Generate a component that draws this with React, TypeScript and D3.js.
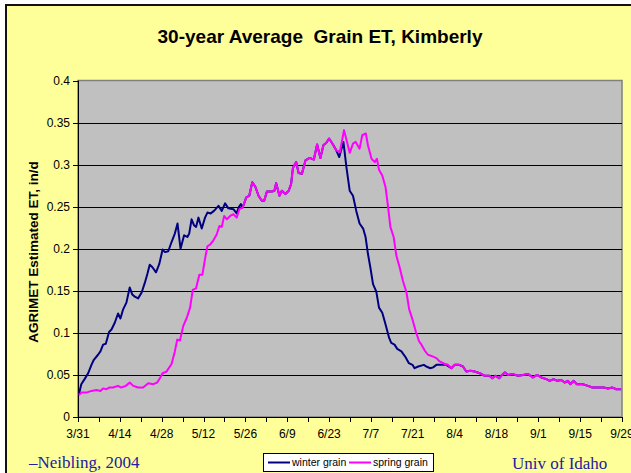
import React from "react";
import * as d3 from "d3";

// Days counted from 3/31
const tickLabels = ["3/31", "4/14", "4/28", "5/12", "5/26", "6/9", "6/23", "7/7", "7/21", "8/4", "8/18", "9/1", "9/15", "9/29"];
const yTicks = [0, 0.05, 0.1, 0.15, 0.2, 0.25, 0.3, 0.35, 0.4];

const springDay = [0.3, 1.1, 2.8, 4.5, 6.2, 7.5, 8.4, 9.5, 10.4, 11.7, 13.4, 14.5, 16.0, 17.3, 18.5, 20.1, 21.8, 23.5, 25.2, 26.5, 27.4, 28.3, 29.6, 31.3, 32.4, 33.2, 34.1, 35.2, 36.4, 37.5, 38.4, 39.5, 40.6, 41.6, 42.5, 43.3, 44.2, 45.3, 46.4, 47.3, 48.1, 48.9, 49.8, 50.9, 52.0, 53.1, 54.0, 55.1, 56.3, 57.3, 58.3, 59.3, 60.4, 61.5, 62.3, 63.2, 64.9, 65.7, 66.3, 67.4, 68.2, 69.4, 70.5, 71.3, 71.9, 73.0, 73.8, 74.9, 76.1, 77.5, 78.9, 80.0, 81.1, 82.1, 83.1, 84.0, 85.3, 86.4, 87.6, 89.0, 90.0, 90.9, 92.0, 92.9, 94.2, 95.1, 96.3, 97.0, 98.2, 99.3, 100.0, 100.7, 101.8, 102.9, 103.7, 104.5, 105.6, 106.5, 107.6, 108.7, 109.9, 110.8, 111.9, 113.0, 114.1, 114.9, 116.0, 117.1, 118.6, 119.9, 121.0, 122.7, 123.8, 124.9, 126.0, 127.5, 128.8, 129.9, 131.3, 132.7, 134.4, 136.1, 137.7, 138.6, 139.7, 140.9, 141.6, 142.8, 143.9, 145.5, 147.2, 148.9, 150.6, 152.2, 153.6, 155.0, 156.7, 157.8, 159.1, 160.3, 161.7, 162.8, 163.9, 164.7, 165.8, 166.9, 168.9, 170.6, 172.1, 174.0, 175.9, 177.3, 178.8, 180.1, 181.7];
const springET = [0.026, 0.029, 0.029, 0.031, 0.032, 0.031, 0.034, 0.033, 0.035, 0.035, 0.037, 0.035, 0.037, 0.041, 0.037, 0.035, 0.035, 0.040, 0.039, 0.041, 0.046, 0.052, 0.054, 0.063, 0.078, 0.092, 0.091, 0.108, 0.118, 0.130, 0.151, 0.153, 0.169, 0.169, 0.188, 0.203, 0.205, 0.210, 0.217, 0.227, 0.226, 0.239, 0.235, 0.239, 0.241, 0.237, 0.247, 0.249, 0.261, 0.263, 0.279, 0.274, 0.263, 0.257, 0.257, 0.268, 0.268, 0.269, 0.278, 0.263, 0.269, 0.265, 0.269, 0.277, 0.296, 0.303, 0.290, 0.289, 0.305, 0.308, 0.306, 0.324, 0.308, 0.323, 0.326, 0.331, 0.324, 0.317, 0.315, 0.341, 0.327, 0.314, 0.325, 0.327, 0.319, 0.335, 0.337, 0.323, 0.307, 0.303, 0.307, 0.294, 0.287, 0.273, 0.251, 0.226, 0.214, 0.192, 0.178, 0.162, 0.148, 0.128, 0.116, 0.102, 0.090, 0.086, 0.079, 0.074, 0.072, 0.070, 0.066, 0.063, 0.062, 0.058, 0.062, 0.062, 0.060, 0.054, 0.055, 0.054, 0.052, 0.049, 0.049, 0.046, 0.049, 0.046, 0.049, 0.053, 0.050, 0.051, 0.049, 0.050, 0.051, 0.047, 0.050, 0.047, 0.045, 0.043, 0.045, 0.043, 0.044, 0.041, 0.043, 0.039, 0.043, 0.039, 0.039, 0.037, 0.035, 0.035, 0.035, 0.034, 0.035, 0.033, 0.033];

const winterDay = [0.3, 1.1, 2.2, 3.4, 4.5, 5.3, 6.7, 7.5, 8.4, 9.3, 10.4, 11.2, 12.3, 13.4, 14.2, 15.1, 16.2, 17.3, 18.1, 19.0, 20.1, 21.3, 22.4, 23.2, 24.0, 24.9, 26.1, 27.2, 28.3, 29.1, 30.2, 31.3, 32.4, 33.3, 34.3, 35.5, 36.6, 37.2, 38.0, 38.8, 39.5, 40.3, 41.4, 42.5, 43.3, 44.4, 45.5, 47.0, 48.1, 49.2, 50.3, 52.0, 53.1, 53.7, 54.5, 55.1, 56.3, 57.3, 58.3, 59.3, 60.4, 61.5, 62.3, 63.2, 64.9, 65.7, 66.3, 67.4, 68.2, 69.4, 70.5, 71.3, 71.9, 73.0, 73.8, 74.9, 76.1, 77.5, 78.9, 80.0, 81.1, 82.1, 83.1, 84.0, 85.3, 86.4, 87.4, 88.8, 89.8, 90.9, 92.0, 93.1, 94.2, 95.4, 96.2, 97.0, 97.8, 98.7, 99.8, 100.7, 101.8, 102.9, 104.1, 104.8, 105.9, 106.8, 108.2, 109.6, 110.7, 111.9, 112.6, 113.8, 115.7, 116.5, 117.9, 118.8, 119.9, 121.6, 123.2, 124.9, 126.0, 127.5, 128.8, 129.9, 131.3, 132.7, 134.4, 136.1, 137.7, 138.6, 139.7, 140.9, 141.6, 142.8, 143.9, 145.5, 147.2, 148.9, 150.6, 152.2, 153.6, 155.0, 156.7, 157.8, 159.1, 160.3, 161.7, 162.8, 163.9, 164.7, 165.8, 166.9, 168.9, 170.6, 172.1, 174.0, 175.9, 177.3, 178.8, 180.1, 181.7];
const winterET = [0.027, 0.039, 0.045, 0.052, 0.062, 0.068, 0.074, 0.078, 0.086, 0.087, 0.101, 0.104, 0.112, 0.123, 0.117, 0.128, 0.136, 0.154, 0.146, 0.143, 0.141, 0.148, 0.160, 0.170, 0.181, 0.178, 0.172, 0.182, 0.199, 0.196, 0.197, 0.208, 0.218, 0.230, 0.200, 0.216, 0.214, 0.218, 0.235, 0.228, 0.226, 0.237, 0.224, 0.237, 0.243, 0.242, 0.245, 0.251, 0.245, 0.254, 0.248, 0.247, 0.242, 0.249, 0.253, 0.249, 0.261, 0.263, 0.279, 0.274, 0.263, 0.257, 0.257, 0.268, 0.268, 0.269, 0.278, 0.263, 0.269, 0.265, 0.269, 0.277, 0.296, 0.303, 0.290, 0.289, 0.305, 0.308, 0.306, 0.324, 0.308, 0.323, 0.326, 0.331, 0.324, 0.317, 0.309, 0.327, 0.297, 0.269, 0.263, 0.245, 0.230, 0.224, 0.214, 0.194, 0.178, 0.158, 0.149, 0.130, 0.124, 0.110, 0.094, 0.088, 0.086, 0.081, 0.078, 0.071, 0.064, 0.062, 0.058, 0.060, 0.062, 0.060, 0.058, 0.059, 0.062, 0.062, 0.062, 0.058, 0.062, 0.062, 0.060, 0.054, 0.055, 0.054, 0.052, 0.049, 0.049, 0.046, 0.049, 0.046, 0.049, 0.053, 0.050, 0.051, 0.049, 0.050, 0.051, 0.047, 0.050, 0.047, 0.045, 0.043, 0.045, 0.043, 0.044, 0.041, 0.043, 0.039, 0.043, 0.039, 0.039, 0.037, 0.035, 0.035, 0.035, 0.034, 0.035, 0.033, 0.033];

const W = 631;
const H = 473;
const plot = { left: 78, right: 622, top: 80.5, bottom: 417 };

export default function App() {
  const x = d3.scaleLinear().domain([0, 182]).range([plot.left, plot.right]);
  const y = d3.scaleLinear().domain([0, 0.4]).range([plot.bottom, plot.top]);
  const line = d3
    .line<[number, number]>()
    .x((d) => x(d[0]))
    .y((d) => y(d[1]));
  const winter = winterDay.map((d, i) => [d, winterET[i]] as [number, number]);
  const spring = springDay.map((d, i) => [d, springET[i]] as [number, number]);
  const minorTicks = d3.range(0, 183, 7);
  const sans = "'Liberation Sans', Arial, sans-serif";
  const serif = "'Liberation Serif', 'Times New Roman', serif";

  return (
    <svg width={W} height={H} style={{ position: "absolute", left: 0, top: 0 }} fontFamily={sans}>
      <rect x={0} y={0} width={W} height={H} fill="#ffffff" />
      <rect x={6} y={5} width={W + 20} height={H + 20} fill="#FFFF99" stroke="#111111" strokeWidth={2} />
      <text x={320} y={42.5} textAnchor="middle" fontSize={19} fontWeight="bold" fill="#000" style={{ whiteSpace: "pre" }}>
        {"30-year Average  Grain ET, Kimberly"}
      </text>
      <rect x={plot.left} y={plot.top} width={plot.right - plot.left} height={plot.bottom - plot.top} fill="#C0C0C0" stroke="#808080" strokeWidth={1.5} />
      {yTicks.slice(1, -1).map((t) => (
        <line key={t} x1={plot.left} x2={plot.right} y1={Math.round(y(t)) + 0.5} y2={Math.round(y(t)) + 0.5} stroke="#000" strokeWidth={1} />
      ))}
      <line x1={plot.left + 0.5} x2={plot.left + 0.5} y1={plot.top} y2={plot.bottom} stroke="#000" strokeWidth={1} />
      <line x1={plot.left} x2={plot.right} y1={plot.bottom + 0.5} y2={plot.bottom + 0.5} stroke="#000" strokeWidth={1} />
      {yTicks.map((t) => (
        <g key={t}>
          <line x1={plot.left - 5} x2={plot.left} y1={Math.round(y(t)) + 0.5} y2={Math.round(y(t)) + 0.5} stroke="#000" />
          <text x={70} y={y(t) + 4} textAnchor="end" fontSize={12} fill="#000">
            {t}
          </text>
        </g>
      ))}
      {minorTicks.map((t) => (
        <line key={t} x1={Math.round(x(t)) + 0.5} x2={Math.round(x(t)) + 0.5} y1={plot.bottom} y2={plot.bottom + 5} stroke="#000" />
      ))}
      {tickLabels.map((lab, i) => (
        <text key={lab} x={x(i * 14)} y={438} textAnchor="middle" fontSize={12} fill="#000">
          {lab}
        </text>
      ))}
      <text transform={`translate(38,252) rotate(-90)`} textAnchor="middle" fontSize={13.5} fontWeight="bold" fill="#000">
        AGRIMET Estimated ET, in/d
      </text>
      <path d={line(winter) || ""} fill="none" stroke="#000080" strokeWidth={2} strokeLinejoin="round" />
      <path d={line(spring) || ""} fill="none" stroke="#FF00FF" strokeWidth={2} strokeLinejoin="round" />
      <rect x={263.5} y={453.5} width={170} height={18} fill="#fff" stroke="#000" strokeWidth={1} />
      <line x1={268} x2={290} y1={462.5} y2={462.5} stroke="#000080" strokeWidth={2} />
      <text x={292} y={466} fontSize={10.5} fill="#000">winter grain</text>
      <line x1={349} x2={371} y1={462.5} y2={462.5} stroke="#FF00FF" strokeWidth={2} />
      <text x={373} y={466} fontSize={10.5} fill="#000">spring grain</text>
      <text x={29} y={468} fontFamily={serif} fontSize={17} fill="#2020A0">–Neibling, 2004</text>
      <text x={512} y={469} fontFamily={serif} fontSize={17} fill="#2020A0">Univ of Idaho</text>
    </svg>
  );
}
